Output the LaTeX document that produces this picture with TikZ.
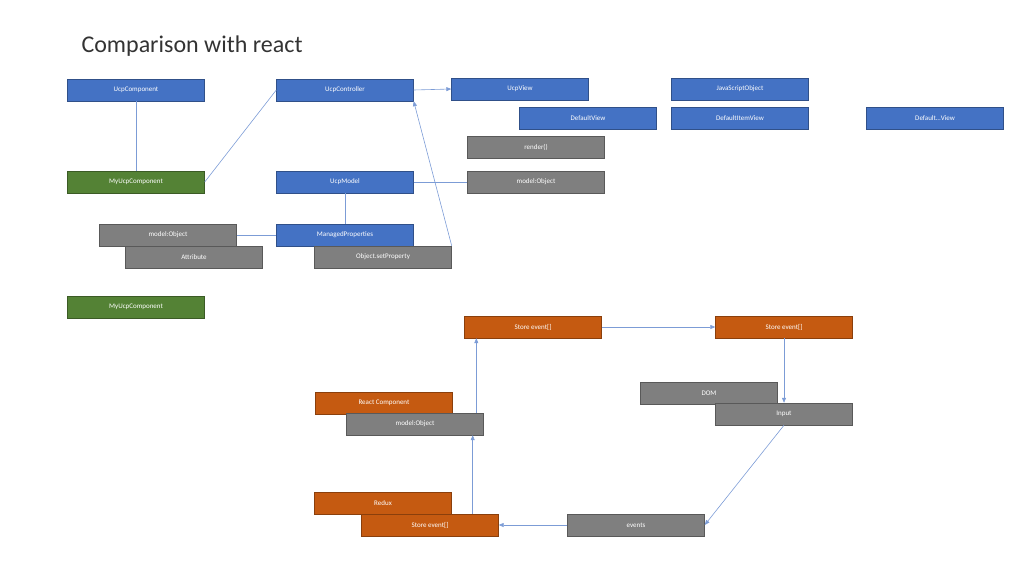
\documentclass[tikz,border=0pt]{standalone}
\usepackage{fontspec}
\setmainfont{Carlito}
\usetikzlibrary{arrows.meta}
\definecolor{ucpblue}{HTML}{4472C4}
\definecolor{ucpgreen}{HTML}{548235}
\definecolor{ucpgrey}{HTML}{7F7F7F}
\definecolor{ucporange}{HTML}{C55A11}
\tikzset{
  box/.style={draw=#1!70!black,fill=#1,text=white,minimum width=137pt,minimum height=22pt,inner sep=0pt,font=\fontsize{7}{8}\selectfont},
  link/.style={draw=ucpblue!70,line width=0.6pt},
  flow/.style={link,-{Triangle[length=5pt,width=4pt]}}
}
\begin{document}
\begin{tikzpicture}[x=1pt,y=-1pt]
	\useasboundingbox (0,0) rectangle (1024,576);
	\node[anchor=west,font=\fontsize{24}{28}\selectfont,text=black!80] (title) at (78,46) {Comparison with react};

	% upper part
	\node[box=ucpblue] (comp) at (136,90) {UcpComponent};
	\node[box=ucpblue] (ctrl) at (345,90) {UcpController};
	\node[box=ucpblue] (view) at (520,89) {UcpView};
	\node[box=ucpblue] (jso) at (740,89) {JavaScriptObject};
	\node[box=ucpblue] (dview) at (588,118) {DefaultView};
	\node[box=ucpblue] (ditem) at (740,118) {DefaultItemView};
	\node[box=ucpblue] (dother) at (935,118) {Default…View};
	\node[box=ucpgrey] (render) at (536,147) {render()};
	\node[box=ucpgreen] (mycomp) at (136,182) {MyUcpComponent};
	\node[box=ucpblue] (model) at (345,182) {UcpModel};
	\node[box=ucpgrey] (mobj) at (536,182) {model:Object};
	\node[box=ucpgrey] (mobjb) at (168,235) {model:Object};
	\node[box=ucpgrey] (attr) at (194,257) {Attribute};
	\node[box=ucpblue] (mprop) at (345,235) {ManagedProperties};
	\node[box=ucpgrey] (setp) at (383,257) {Object.setProperty};
	\node[box=ucpgreen] (mycompb) at (136,307) {MyUcpComponent};

	\draw[link] (comp) -- (mycomp);
	\draw[link] (mycomp.east) -- (ctrl.west);
	\draw[flow] (ctrl.east) -- (view.west);
	\draw[flow] (setp.north east) -- (ctrl.south east);
	\draw[link] (model.east) -- (mobj.west);
	\draw[link] (model) -- (mprop);
	\draw[link] (mobjb.east) -- (mprop.west);

	% react part
	\node[box=ucporange] (storea) at (533,327) {Store event[]};
	\node[box=ucporange] (storeb) at (784,327) {Store event[]};
	\node[box=ucpgrey] (dom) at (709,393) {DOM};
	\node[box=ucpgrey] (input) at (784,414) {Input};
	\node[box=ucporange] (rcomp) at (384,403) {React Component};
	\node[box=ucpgrey] (mobjc) at (415,424) {model:Object};
	\node[box=ucporange] (redux) at (383,503) {Redux};
	\node[box=ucporange] (storec) at (430,525) {Store event[]};
	\node[box=ucpgrey] (events) at (636,525) {events};

	\draw[flow] (storea.east) -- (storeb.west);
	\draw[flow] (storeb.south) -- (input.north);
	\draw[flow] (input.south) -- (events.east);
	\draw[flow] (events.west) -- (storec.east);
	\draw[flow] (storec.north -| mobjc.south east) ++(-11,0) coordinate (sc) (sc) -- (sc |- mobjc.south);
	\draw[flow] (mobjc.north -| storea.south west) ++(12,0) coordinate (mc) (mc) -- (mc |- storea.south);
\end{tikzpicture}
\end{document}
